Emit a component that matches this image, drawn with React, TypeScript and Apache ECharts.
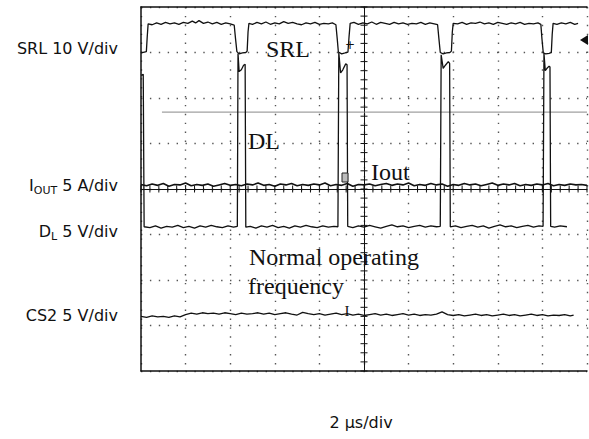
import React, { useEffect, useRef } from "react";
import * as echarts from "echarts";

// Channel labels (left), time base (bottom) and in-screen annotations
const channelLabels = ["SRL 10 V/div", "IOUT 5 A/div", "DL 5 V/div", "CS2 5 V/div"];
const timebaseLabel = "2 μs/div";
const annotationTexts = ["SRL", "DL", "Iout", "Normal operating", "frequency"];

// Screen: time in µs relative to centre (2 µs/div, 10 div), value in divisions (8 div)
const timeRange = [-10, 10];
const divRange = [-4, 4];

// SRL trace [µs, div]
const srlTrace = [
  [-10.0, 2.99], [-9.85, 3.01], [-9.76, 3.02], [-9.72, 3.35], [-9.68, 3.63],
  [-9.5, 3.61], [-9.3, 3.65], [-9.1, 3.62], [-8.9, 3.66], [-8.7, 3.63], [-8.5, 3.65], [-8.3, 3.62], [-8.1, 3.66], [-7.9, 3.64], [-7.7, 3.69], [-7.55, 3.65], [-7.4, 3.7], [-7.2, 3.64], [-7.0, 3.67], [-6.8, 3.63], [-6.6, 3.66], [-6.4, 3.62], [-6.2, 3.65], [-6.0, 3.63], [-5.82, 3.6],
  [-5.76, 3.3], [-5.7, 3.02], [-5.6, 2.97], [-5.45, 2.99], [-5.3, 3.0], [-5.24, 3.03], [-5.2, 3.45], [-5.16, 3.64],
  [-5.0, 3.62], [-4.8, 3.66], [-4.6, 3.63], [-4.4, 3.67], [-4.2, 3.62], [-4.0, 3.65], [-3.8, 3.63], [-3.6, 3.68], [-3.4, 3.64], [-3.2, 3.66], [-3.0, 3.63], [-2.8, 3.61], [-2.6, 3.65], [-2.4, 3.63], [-2.2, 3.66], [-2.0, 3.62], [-1.8, 3.64], [-1.6, 3.63], [-1.42, 3.65], [-1.26, 3.61],
  [-1.2, 3.3], [-1.15, 3.01], [-1.0, 2.97], [-0.85, 2.99], [-0.72, 3.01], [-0.67, 3.35], [-0.62, 3.64],
  [-0.45, 3.66], [-0.25, 3.62], [-0.05, 3.65], [0.15, 3.63], [0.35, 3.67], [0.55, 3.62], [0.75, 3.66], [0.95, 3.64], [1.15, 3.62], [1.35, 3.66], [1.55, 3.63], [1.75, 3.65], [1.95, 3.62], [2.15, 3.64], [2.35, 3.63], [2.55, 3.66], [2.75, 3.62], [2.95, 3.65], [3.15, 3.63], [3.3, 3.61],
  [3.36, 3.3], [3.42, 3.0], [3.55, 2.97], [3.7, 2.99], [3.85, 3.0], [3.92, 3.03], [3.96, 3.45], [4.0, 3.64],
  [4.2, 3.63], [4.4, 3.66], [4.6, 3.62], [4.8, 3.65], [5.0, 3.64], [5.2, 3.67], [5.4, 3.63], [5.6, 3.65], [5.8, 3.62], [6.0, 3.66], [6.2, 3.64], [6.4, 3.62], [6.6, 3.65], [6.8, 3.63], [7.0, 3.66], [7.2, 3.62], [7.4, 3.64], [7.6, 3.63], [7.8, 3.65], [7.93, 3.62],
  [7.98, 3.3], [8.04, 2.99], [8.15, 2.97], [8.3, 2.98], [8.4, 3.0], [8.44, 3.4], [8.48, 3.64],
  [8.65, 3.62], [8.85, 3.65], [9.05, 3.63], [9.25, 3.66], [9.45, 3.62], [9.6, 3.64],
];

// DL trace [µs, div]
const dlTrace = [
  [-10.0, 2.5], [-9.9, 2.52], [-9.86, -0.83],
  [-9.6, -0.85], [-9.35, -0.81], [-9.1, -0.86], [-8.85, -0.82], [-8.6, -0.84], [-8.35, -0.8], [-8.1, -0.85], [-7.85, -0.82], [-7.6, -0.86], [-7.35, -0.81], [-7.1, -0.84], [-6.85, -0.8], [-6.6, -0.83], [-6.35, -0.85], [-6.1, -0.81], [-5.85, -0.84], [-5.68, -0.82],
  [-5.65, 2.98], [-5.6, 2.58], [-5.5, 2.62], [-5.4, 2.72], [-5.33, 2.74], [-5.3, -0.84],
  [-5.1, -0.82], [-4.85, -0.86], [-4.6, -0.81], [-4.35, -0.84], [-4.1, -0.8], [-3.85, -0.85], [-3.6, -0.82], [-3.35, -0.86], [-3.1, -0.81], [-2.85, -0.84], [-2.6, -0.8], [-2.35, -0.83], [-2.1, -0.85], [-1.85, -0.81], [-1.6, -0.84], [-1.35, -0.82], [-1.17, -0.83],
  [-1.13, 3.0], [-1.05, 2.55], [-0.95, 2.62], [-0.82, 2.75], [-0.76, 2.73], [-0.73, -0.82],
  [-0.5, -0.85], [-0.25, -0.81], [0.0, -0.84], [0.25, -0.8], [0.5, -0.83], [0.75, -0.86], [1.0, -0.82], [1.25, -0.79], [1.5, -0.83], [1.75, -0.81], [2.0, -0.85], [2.25, -0.82], [2.5, -0.8], [2.75, -0.84], [3.0, -0.81], [3.25, -0.83], [3.42, -0.82],
  [3.46, 2.95], [3.55, 2.65], [3.65, 2.72], [3.78, 2.8], [3.84, 2.76], [3.87, -0.83],
  [4.1, -0.81], [4.35, -0.85], [4.6, -0.82], [4.85, -0.8], [5.1, -0.84], [5.35, -0.81], [5.6, -0.86], [5.85, -0.82], [6.1, -0.79], [6.35, -0.83], [6.6, -0.81], [6.85, -0.85], [7.1, -0.82], [7.35, -0.8], [7.6, -0.84], [7.85, -0.81], [8.03, -0.82],
  [8.07, 2.98], [8.13, 2.6], [8.22, 2.66], [8.3, 2.7], [8.34, 2.68], [8.37, -0.82],
  [8.55, -0.84], [8.8, -0.81], [9.1, -0.83],
];

// IOUT trace [µs, div]
const ioutTrace = [
  [-10.0, 0.10], [-9.75, 0.07], [-9.5, 0.11], [-9.25, 0.08], [-9.0, 0.12], [-8.75, 0.06], [-8.5, 0.10], [-8.25, 0.09], [-8.0, 0.13], [-7.75, 0.07],
  [-7.5, 0.10], [-7.25, 0.08], [-7.0, 0.11], [-6.75, 0.06], [-6.5, 0.09], [-6.25, 0.12], [-6.0, 0.08], [-5.75, 0.10], [-5.5, 0.07], [-5.25, 0.11],
  [-5.0, 0.09], [-4.75, 0.13], [-4.5, 0.08], [-4.25, 0.10], [-4.0, 0.06], [-3.75, 0.11], [-3.5, 0.09], [-3.25, 0.12], [-3.0, 0.07], [-2.75, 0.10],
  [-2.5, 0.08], [-2.25, 0.11], [-2.0, 0.09], [-1.75, 0.13], [-1.5, 0.07], [-1.25, 0.10], [-1.0, 0.08], [-0.75, 0.12], [-0.5, 0.06], [-0.25, 0.10],
  [0.0, 0.09], [0.25, 0.11], [0.5, 0.07], [0.75, 0.10], [1.0, 0.12], [1.25, 0.08], [1.5, 0.11], [1.75, 0.09], [2.0, 0.13], [2.25, 0.07],
  [2.5, 0.10], [2.75, 0.08], [3.0, 0.12], [3.25, 0.09], [3.5, 0.11], [3.75, 0.06], [4.0, 0.10], [4.25, 0.08], [4.5, 0.12], [4.75, 0.09],
  [5.0, 0.11], [5.25, 0.07], [5.5, 0.10], [5.75, 0.13], [6.0, 0.08], [6.25, 0.11], [6.5, 0.09], [6.75, 0.12], [7.0, 0.07], [7.25, 0.10],
  [7.5, 0.08], [7.75, 0.11], [8.0, 0.09], [8.25, 0.12], [8.5, 0.07], [8.75, 0.10], [9.0, 0.08], [9.25, 0.11], [9.5, 0.09], [9.75, 0.10],
  [10.0, 0.08],
];

// CS2 trace [µs, div]
const cs2Trace = [
  [-10.0, -2.8], [-9.75, -2.82], [-9.5, -2.79], [-9.25, -2.81], [-9.0, -2.8], [-8.75, -2.82], [-8.5, -2.79], [-8.25, -2.81], [-8.0, -2.76], [-7.75, -2.73],
  [-7.5, -2.75], [-7.25, -2.72], [-7.0, -2.74], [-6.75, -2.73], [-6.5, -2.75], [-6.25, -2.72], [-6.0, -2.74], [-5.75, -2.76], [-5.5, -2.73], [-5.25, -2.75],
  [-5.0, -2.74], [-4.75, -2.72], [-4.5, -2.75], [-4.25, -2.73], [-4.0, -2.76], [-3.75, -2.74], [-3.5, -2.72], [-3.25, -2.75], [-3.0, -2.77], [-2.75, -2.71],
  [-2.5, -2.74], [-2.25, -2.76], [-2.0, -2.74], [-1.75, -2.77], [-1.5, -2.75], [-1.25, -2.73], [-1.0, -2.76], [-0.75, -2.74], [-0.5, -2.77], [-0.25, -2.75],
  [0.0, -2.78], [0.25, -2.76], [0.5, -2.74], [0.75, -2.77], [1.0, -2.75], [1.25, -2.78], [1.5, -2.76], [1.75, -2.74], [2.0, -2.77], [2.25, -2.75],
  [2.5, -2.78], [2.75, -2.76], [3.0, -2.77], [3.25, -2.75], [3.5, -2.7], [3.75, -2.76], [4.0, -2.78], [4.25, -2.76], [4.5, -2.79], [4.75, -2.77],
  [5.0, -2.75], [5.25, -2.78], [5.5, -2.76], [5.75, -2.79], [6.0, -2.77], [6.25, -2.75], [6.5, -2.78], [6.75, -2.76], [7.0, -2.79], [7.25, -2.77],
  [7.5, -2.75], [7.75, -2.78], [8.0, -2.76], [8.25, -2.79], [8.5, -2.77], [8.75, -2.78], [9.0, -2.76], [9.25, -2.79], [9.4, -2.77],
];

// Horizontal cursor level [µs, div]
const cursorLevel = [[-9.06, 1.69], [10.0, 1.69]];

const SANS = '"DejaVu Sans", "Liberation Sans", sans-serif';
const SERIF = '"Liberation Serif", "Times New Roman", serif';

function textEl(text: string, x: number, y: number, font: string, align: string = "left", extra: any = {}) {
  return {
    type: "text",
    x,
    y,
    silent: true,
    style: {
      text,
      font,
      fill: "#111",
      align,
      verticalAlign: "middle",
      textAlign: align,
      textVerticalAlign: "middle",
      ...extra,
    },
  };
}

function subLabel(main: string, sub: string, rest: string, x: number, y: number) {
  return {
    type: "text",
    x,
    y,
    silent: true,
    style: {
      text: `{m|${main}}{s|${sub}}{m|${rest}}`,
      align: "right",
      verticalAlign: "middle",
      textAlign: "right",
      textVerticalAlign: "middle",
      fill: "#111",
      rich: {
        m: { fontSize: 16, fontFamily: SANS, lineHeight: 22, fill: "#111", color: "#111" },
        s: { fontSize: 11, fontFamily: SANS, lineHeight: 11, verticalAlign: "bottom", fill: "#111", color: "#111" },
      },
    },
  };
}

export default function App() {
  const ref = useRef<HTMLDivElement>(null);

  useEffect(() => {
    if (!ref.current) return;
    const chart = echarts.init(ref.current, undefined, { renderer: "svg" });

    // graticule tick positions along the centre lines (every 0.2 division); 3rd value = orientation
    const tickMarks: number[][] = [];
    for (let i = 0; i <= 50; i++) tickMarks.push([timeRange[0] + i * 0.4, 0, 0]);
    for (let i = 0; i <= 40; i++) tickMarks.push([0, divRange[0] + i * 0.2, 1]);

    const dotted = { show: true, lineStyle: { color: "#555", width: 1.4, type: [1.4, 7.5] } };
    const centerLine = {
      axisLine: { show: true, onZero: true, onZeroAxisIndex: 0, lineStyle: { color: "#111", width: 1 } },
      axisTick: { show: false },
      axisLabel: { show: false },
      splitLine: { show: false },
    };
    const border = (splitLine: any) => ({
      axisLine: { show: true, onZero: false, lineStyle: { color: "#111", width: 1.5 } },
      axisTick: { show: false },
      axisLabel: { show: false },
      splitLine,
    });

    const xBase = { type: "value", min: timeRange[0], max: timeRange[1], interval: 2 };
    const yBase = { type: "value", min: divRange[0], max: divRange[1], interval: 1 };

    const traceSeries = (name: string, data: number[][], color = "#111", width = 1.3) => ({
      name,
      type: "line",
      data,
      symbol: "none",
      silent: true,
      xAxisIndex: 0,
      yAxisIndex: 0,
      lineStyle: { color, width },
      z: 5,
    });

    chart.setOption({
      animation: false,
      backgroundColor: "#fff",
      grid: { left: 141, top: 7, width: 446, height: 364, show: false },
      xAxis: [
        { ...xBase, position: "bottom", ...border(dotted) },
        { ...xBase, position: "top", ...border({ show: false }) },
        { ...xBase, position: "bottom", ...centerLine },
      ],
      yAxis: [
        { ...yBase, position: "left", ...border(dotted) },
        { ...yBase, position: "right", ...centerLine },
      ],
      series: [
        {
          type: "custom",
          data: tickMarks,
          silent: true,
          xAxisIndex: 0,
          yAxisIndex: 0,
          z: 4,
          renderItem: (params: any, api: any) => {
            const p = api.coord([api.value(0), api.value(1)]);
            const vertical = api.value(2) === 0;
            return {
              type: "line",
              shape: vertical
                ? { x1: p[0], y1: p[1] - 3.5, x2: p[0], y2: p[1] + 3.5 }
                : { x1: p[0] - 3.5, y1: p[1], x2: p[0] + 3.5, y2: p[1] },
              style: { stroke: "#111", lineWidth: 1 },
            };
          },
        },
        traceSeries("cursor", cursorLevel, "#888", 1),
        traceSeries("SRL", srlTrace),
        traceSeries("DL", dlTrace),
        traceSeries("IOUT", ioutTrace, "#111", 1.6),
        traceSeries("CS2", cs2Trace),
      ],
      graphic: [
        textEl(channelLabels[0], 118, 48, `16px ${SANS}`, "right"),
        subLabel("I", "OUT", " 5 A/div", 118, 185),
        subLabel("D", "L", " 5 V/div", 118, 231),
        textEl(channelLabels[3], 118, 315, `16px ${SANS}`, "right"),
        textEl(timebaseLabel, 361, 422, `16px ${SANS}`, "center"),
        textEl(annotationTexts[0], 266, 49, `24px ${SERIF}`),
        textEl(annotationTexts[1], 248, 141, `24px ${SERIF}`),
        textEl(annotationTexts[2], 371, 172, `24px ${SERIF}`),
        textEl(annotationTexts[3], 249, 257, `24px ${SERIF}`),
        textEl(annotationTexts[4], 248, 286, `24px ${SERIF}`),
        textEl("I", 347, 311, `15px ${SERIF}`, "center"),
        textEl("+", 350, 45, `12px ${SANS}`, "center"),
        {
          type: "rect",
          silent: true,
          shape: { x: 342, y: 173, width: 6, height: 9 },
          style: { fill: "#bbb", stroke: "#222", lineWidth: 1 },
          z: 10,
        },
        {
          type: "polygon",
          silent: true,
          shape: { points: [[588, 35], [588, 45], [580, 40]] },
          style: { fill: "#111" },
          z: 10,
        },
      ],
    });

    return () => chart.dispose();
  }, []);

  return (
    <div
      ref={ref}
      style={{ position: "absolute", left: 0, top: 0, width: 589, height: 439, background: "#fff" }}
    />
  );
}
